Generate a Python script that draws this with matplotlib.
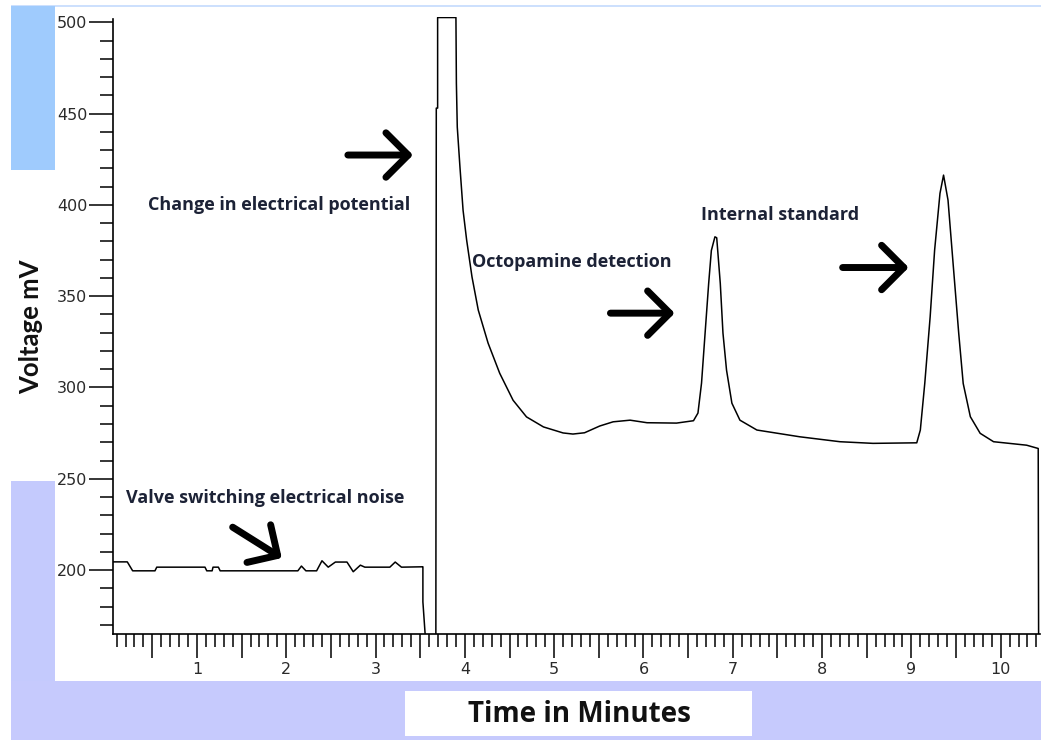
import matplotlib
matplotlib.use('Agg')
import matplotlib.pyplot as plt
from matplotlib.patches import Rectangle
from matplotlib.ticker import MultipleLocator, FuncFormatter

# chromatogram trace (minutes, mV)
t_min = [0.06, 0.22, 0.28, 0.53, 0.55, 1.09, 1.11, 1.17, 1.18, 1.24, 1.26,
         2.13, 2.17, 2.22, 2.34, 2.40, 2.47, 2.55, 2.68, 2.75, 2.83, 2.88,
         3.16, 3.22, 3.29, 3.52, 3.53, 3.53, 3.555, 3.57, 3.675,
         3.68, 3.695, 3.695, 3.90, 3.905, 3.915, 3.945, 3.98, 4.02, 4.08,
         4.15, 4.26, 4.39, 4.54, 4.69, 4.88, 5.10, 5.21, 5.34, 5.51, 5.66,
         5.85, 6.04, 6.37, 6.56, 6.61, 6.65, 6.69, 6.73, 6.76, 6.80, 6.82,
         6.86, 6.89, 6.93, 6.99, 7.08, 7.27, 7.75, 8.20, 8.57, 9.06, 9.10,
         9.15, 9.21, 9.26, 9.32, 9.36, 9.41, 9.47, 9.53, 9.58, 9.66, 9.77,
         9.92, 10.29, 10.42, 10.425]
voltage_mv = [204.5, 204.5, 199.6, 199.6, 201.6, 201.6, 199.6, 199.6, 201.6, 201.6, 199.6,
              199.6, 202.2, 199.6, 199.6, 205.1, 201.6, 204.4, 204.4, 199.1, 202.7, 201.6,
              201.6, 204.4, 201.6, 201.8, 201.8, 182.6, 165.0, 150.0, 150.0,
              453.0, 453.0, 502.6, 502.6, 466.7, 442.6, 420.7, 397.0, 380.7, 360.5,
              342.4, 324.3, 307.8, 293.0, 283.9, 278.4, 275.1, 274.5, 275.2, 278.9, 281.2,
              282.1, 280.7, 280.5, 281.8, 286.0, 302.4, 329.8, 357.0, 375.0, 382.5, 382.0,
              357.0, 329.8, 309.5, 291.4, 282.1, 276.7, 273.0, 270.3, 269.4, 269.7, 276.7,
              302.4, 338.7, 375.2, 406.3, 416.3, 402.6, 366.0, 329.6, 302.2, 284.0, 274.9,
              270.3, 268.4, 266.6, 150.0]

# annotation texts and where they sit (minutes, mV)
notes = ['Change in electrical potential', 'Octopamine detection',
         'Internal standard', 'Valve switching electrical noise']
note_x = [1.92, 5.20, 7.53, 1.76]
note_y = [400.0, 368.7, 394.4, 239.4]

# arrows: tail -> tip (minutes, mV)
arrow_tail_x = [2.69, 5.63, 8.23, 1.40]
arrow_tail_y = [427.3, 340.7, 365.7, 223.5]
arrow_tip_x = [3.42, 6.35, 8.97, 1.95]
arrow_tip_y = [427.3, 340.7, 365.7, 206.6]

W, H = 1041, 740
fig = plt.figure(figsize=(W / 100, H / 100), dpi=100)


def px_rect(x0, y0, x1, y1, color, z=0):
    # rectangle given in image pixels (y down)
    fig.add_artist(Rectangle((x0 / W, 1 - y1 / H), (x1 - x0) / W, (y1 - y0) / H,
                             transform=fig.transFigure, facecolor=color,
                             edgecolor='none', zorder=z))


# slide-style background blocks
px_rect(11, 4.5, 1041, 6.5, '#cde0fd')
px_rect(11, 6, 55, 170, '#9fcbfd')
px_rect(11, 481, 55, 740, '#c4cafd')
px_rect(11, 681, 1041, 740, '#c6cafd')
px_rect(405, 691, 752, 736, 'white', z=1)

ax = fig.add_axes([113 / W, (H - 634) / H, (1040 - 113) / W, (634 - 16.8) / H])
ax.set_facecolor('none')
ax.plot(t_min, voltage_mv, color='black', lw=1.1)
ax.set_xlim(0.06, 10.44)
ax.set_ylim(165, 503)

for s in ['top', 'right']:
    ax.spines[s].set_visible(False)
for s in ['left', 'bottom']:
    ax.spines[s].set_linewidth(1.2)
ax.spines['left'].set_bounds(165, 501.7)

ax.xaxis.set_major_locator(MultipleLocator(0.5))
ax.xaxis.set_minor_locator(MultipleLocator(0.1))
ax.xaxis.set_major_formatter(FuncFormatter(lambda v, pos: '%d' % round(v) if abs(v - round(v)) < 1e-6 else ''))
ax.yaxis.set_major_locator(MultipleLocator(50))
ax.yaxis.set_minor_locator(MultipleLocator(10))

ax.tick_params(axis='both', which='major', length=17, width=1.1, colors='black',
               labelcolor='#2a2a2a', labelsize=11.5)
ax.tick_params(axis='both', which='minor', length=9.4, width=1.1)
ax.tick_params(axis='x', which='major', pad=3.5)
ax.tick_params(axis='y', which='major', pad=1.5)

for txt, x, y in zip(notes, note_x, note_y):
    ax.text(x, y, txt, ha='center', va='center', fontsize=13, fontweight='bold',
            family='Open Sans', color='#1c2236')

for x0, y0, x1, y1 in zip(arrow_tail_x, arrow_tail_y, arrow_tip_x, arrow_tip_y):
    ax.annotate('', xy=(x1, y1), xytext=(x0, y0),
                arrowprops=dict(arrowstyle='->, head_length=16, head_width=16',
                                mutation_scale=1, lw=5, color='black',
                                shrinkA=0, shrinkB=0))

fig.text(31 / W, 1 - 327 / H, 'Voltage mV', rotation=90, ha='center', va='center',
         fontsize=18.5, fontweight='bold', family='Lato', color='#111111')
fig.text(579 / W, 1 - 714 / H, 'Time in Minutes', ha='center', va='center',
         fontsize=20, fontweight='bold', family='Open Sans', color='#111111', zorder=2)

fig.savefig('out.png', dpi=100)
